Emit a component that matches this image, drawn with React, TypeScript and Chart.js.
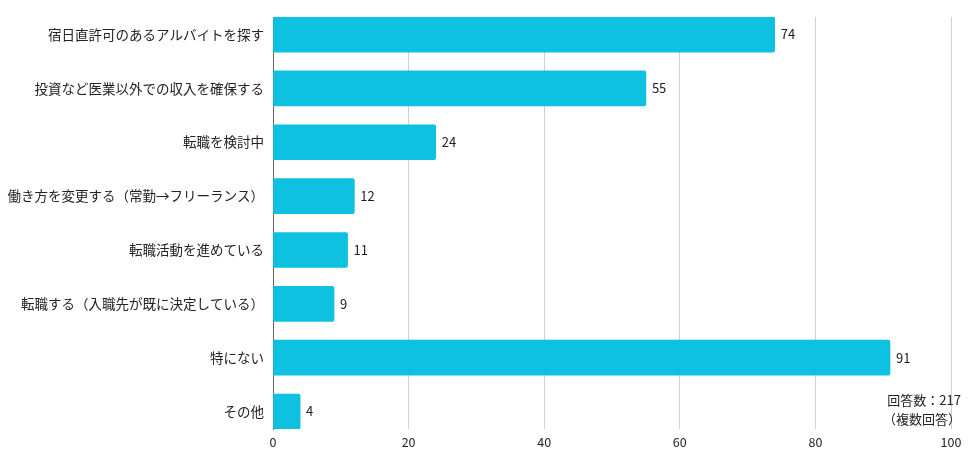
import React, { useEffect, useRef } from "react";
import { Chart, registerables } from "chart.js";

Chart.register(...registerables);

const categories = [
  "宿日直許可のあるアルバイトを探す",
  "投資など医業以外での収入を確保する",
  "転職を検討中",
  "働き方を変更する（常勤→フリーランス）",
  "転職活動を進めている",
  "転職する（入職先が既に決定している）",
  "特にない",
  "その他",
];
const values = [74, 55, 24, 12, 11, 9, 91, 4];
const xTicks = [0, 20, 40, 60, 80, 100];
const noteLines = ["回答数：217", "（複数回答）"];

const FONT = "'Noto Sans CJK JP', 'Noto Sans', sans-serif";

export default function App() {
  const ref = useRef<HTMLCanvasElement | null>(null);
  useEffect(() => {
    document.body.style.margin = "0";
    const labelPlugin = {
      id: "valueLabels",
      afterDatasetsDraw(chart: any) {
        const { ctx } = chart;
        const meta = chart.getDatasetMeta(0);
        ctx.save();
        ctx.font = `13px ${FONT}`;
        ctx.fillStyle = "#222";
        ctx.textAlign = "left";
        ctx.textBaseline = "middle";
        meta.data.forEach((bar: any, i: number) => {
          ctx.fillText(String(values[i]), bar.x + 6, bar.y);
        });
        ctx.textAlign = "right";
        ctx.fillText(noteLines[0], 961, 400);
        ctx.fillText(noteLines[1], 961, 419);
        ctx.restore();
      },
    };
    const pad = 17.5 / 54;
    const chart = new Chart(ref.current!, {
      type: "bar",
      data: {
        datasets: [
          {
            data: values.map((v, i) => ({ x: v, y: i })),
            backgroundColor: "#0ec1e0",
            borderRadius: 2,
            borderSkipped: "start",
            barThickness: 35,
          },
        ],
      },
      options: {
        indexAxis: "y",
        animation: false,
        responsive: false,
        layout: { padding: { top: 16, right: 25, bottom: 0, left: 0 } },
        plugins: { legend: { display: false }, tooltip: { enabled: false } },
        scales: {
          x: {
            type: "linear",
            min: 0,
            max: 100,
            offset: false,
            afterBuildTicks(scale: any) {
              scale.ticks = xTicks.map((v) => ({ value: v }));
            },
            ticks: { color: "#222", font: { family: FONT, size: 12.5 }, padding: 6 },
            grid: { color: "#d0d0d0", drawTicks: false, offset: false },
            border: { display: false },
            afterFit(scale: any) {
              scale.height = 30;
            },
          },
          y: {
            type: "linear",
            reverse: true,
            offset: false,
            min: -pad,
            max: categories.length - 1 + pad,
            afterBuildTicks(scale: any) {
              scale.ticks = categories.map((_, i) => ({ value: i }));
            },
            ticks: {
              color: "#222",
              font: { family: FONT, size: 13.5 },
              padding: 9,
              autoSkip: false,
              callback: (v: any) => categories[v] ?? "",
            },
            grid: { display: false, drawTicks: false, tickLength: 0, offset: false },
            border: { display: true, color: "#666", width: 1 },
            afterFit(scale: any) {
              scale.width = 273;
            },
          },
        },
      },
      plugins: [labelPlugin],
    });
    return () => chart.destroy();
  }, []);
  return (
    <div style={{ width: 976, height: 459 }}>
      <canvas ref={ref} width={976} height={459} style={{ display: "block" }} />
    </div>
  );
}
